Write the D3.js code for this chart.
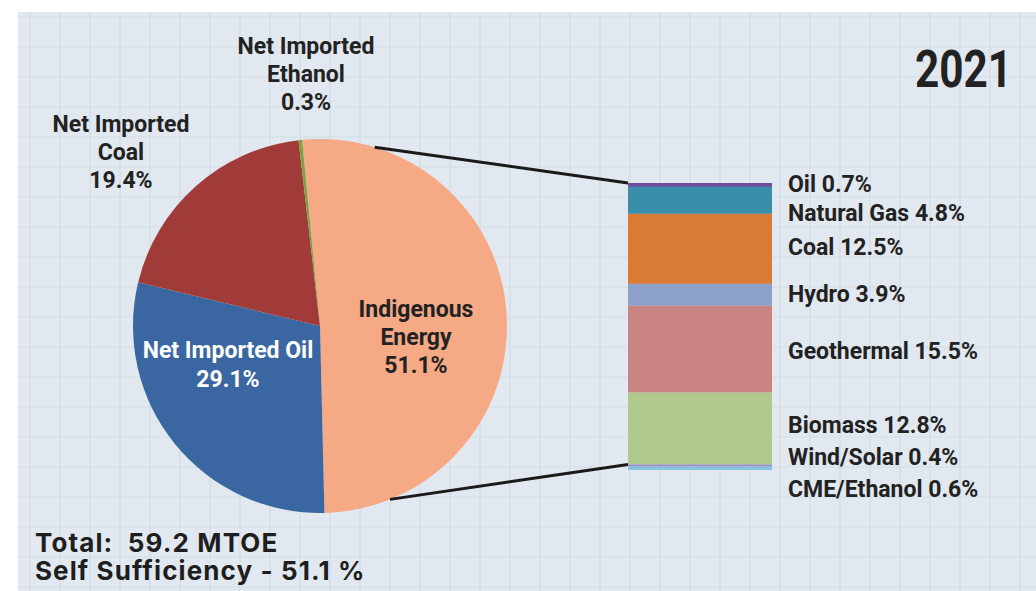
<!DOCTYPE html>
<html><head><meta charset="utf-8">
<script src="https://cdn.jsdelivr.net/npm/d3@7"></script>
<style>html,body{margin:0;padding:0;background:#fff;}svg{display:block;}</style>
</head><body>
<svg id="c" width="1036" height="591"></svg>
<script>
// ---- data ----
const pieCategories = ["Indigenous Energy", "Net Imported Oil", "Net Imported Coal", "Net Imported Ethanol"];
const pieValues = [51.1, 29.1, 19.4, 0.3];
const pieLabelLines = [["Indigenous", "Energy", "51.1%"], ["Net Imported Oil", "29.1%"], ["Net Imported", "Coal", "19.4%"], ["Net Imported", "Ethanol", "0.3%"]];
const barCategories = ["Oil", "Natural Gas", "Coal", "Hydro", "Geothermal", "Biomass", "Wind/Solar", "CME/Ethanol"];
const barValues = [0.7, 4.8, 12.5, 3.9, 15.5, 12.8, 0.4, 0.6];
const yearLabel = "2021";
const totalLines = ["Total:  59.2 MTOE", "Self Sufficiency - 51.1 %"];

// ---- styles / layout ----
const pieColors = ["#f5a985", "#3a67a1", "#a13b3a", "#7ca33f"];
const barColors = ["#6b4f9c", "#398fa9", "#d97a36", "#8ba1c9", "#c98381", "#afc98c", "#9a8fc6", "#86c3df"];
const pieLabelPos = [[416, 317, 28], [228, 358, 29], [121, 132, 28], [306, 54, 28]];
const pieLabelColor = ["#222", "#fff", "#222", "#222"];
const barLabelY = [192, 221, 255, 302, 359, 433, 465, 497];

const svg = d3.select("#c");
// background
svg.append("rect").attr("x", 18).attr("y", 12).attr("width", 1036 - 18).attr("height", 591 - 12).attr("fill", "#e1e8ef");
const grid = svg.append("g").attr("stroke", "#d3dbe5").attr("stroke-width", 1.2);
d3.range(30, 1036, 30).forEach(x => grid.append("line").attr("x1", x).attr("x2", x).attr("y1", 12).attr("y2", 591));
d3.range(17, 591, 30).forEach(y => grid.append("line").attr("x1", 18).attr("x2", 1036).attr("y1", y).attr("y2", y));

// pie
const cx = 320, cy = 326, r = 187;
const startA = -5.5 * Math.PI / 180;
const pie = d3.pie().sort(null).startAngle(startA).endAngle(startA + 2 * Math.PI)(pieValues);
const arc = d3.arc().innerRadius(0).outerRadius(r);
const gp = svg.append("g").attr("transform", `translate(${cx},${cy})`);

// bar
const barX = 628, barW = 144, barTop = 183, barBot = 470;
const total = d3.sum(barValues);
const y = d3.scaleLinear().domain([0, total]).range([barTop, barBot]);
const cum = d3.cumsum(barValues);

// connector lines
const aTop = 17 * Math.PI / 180, aBot = 158 * Math.PI / 180;
const pt = a => [cx + r * Math.sin(a), cy - r * Math.cos(a)];
const lines = svg.append("g").attr("stroke", "#1a1a1a").attr("stroke-width", 3);
lines.append("line").attr("x1", pt(aTop)[0]).attr("y1", pt(aTop)[1]).attr("x2", barX).attr("y2", y(0));
lines.append("line").attr("x1", pt(aBot)[0]).attr("y1", pt(aBot)[1]).attr("x2", barX).attr("y2", y(cum[5]));

gp.selectAll("path").data(pie).join("path").attr("d", arc).attr("fill", (d, i) => pieColors[i]);

const gb = svg.append("g");
gb.selectAll("rect").data(barValues).join("rect")
  .attr("x", barX).attr("width", barW)
  .attr("y", (d, i) => y(cum[i] - d)).attr("height", (d, i) => y(cum[i]) - y(cum[i] - d))
  .attr("fill", (d, i) => barColors[i]);

// pie labels
pieLabelLines.forEach((lns, i) => {
  const [x, y0, lh] = pieLabelPos[i];
  const t = svg.append("text").attr("text-anchor", "middle").attr("font-family", "Roboto").attr("font-weight", 700)
    .attr("font-size", 23).attr("fill", pieLabelColor[i]);
  lns.forEach((s, j) => t.append("tspan").attr("x", x).attr("y", y0 + j * lh).text(s));
});

// bar labels
svg.append("g").selectAll("text").data(barCategories).join("text")
  .attr("x", 788).attr("y", (d, i) => barLabelY[i])
  .attr("font-family", "Roboto").attr("font-weight", 700).attr("font-size", 23).attr("fill", "#222")
  .text((d, i) => `${d} ${barValues[i]}%`);

// year
svg.append("text").attr("x", 1012).attr("y", 87).attr("text-anchor", "end")
  .attr("font-family", "Roboto").attr("font-weight", 700).attr("font-size", 51).attr("fill", "#222")
  .attr("textLength", 97).attr("lengthAdjust", "spacingAndGlyphs").text(yearLabel);

// totals
totalLines.forEach((s, j) => svg.append("text").attr("x", 35).attr("y", 552 + j * 27.5)
  .attr("font-family", "Inter").attr("font-weight", 700).attr("font-size", 26).attr("fill", "#1e1e1e")
  .attr("letter-spacing", 1.1).style("white-space", "pre").text(s));
</script>
</body></html>
